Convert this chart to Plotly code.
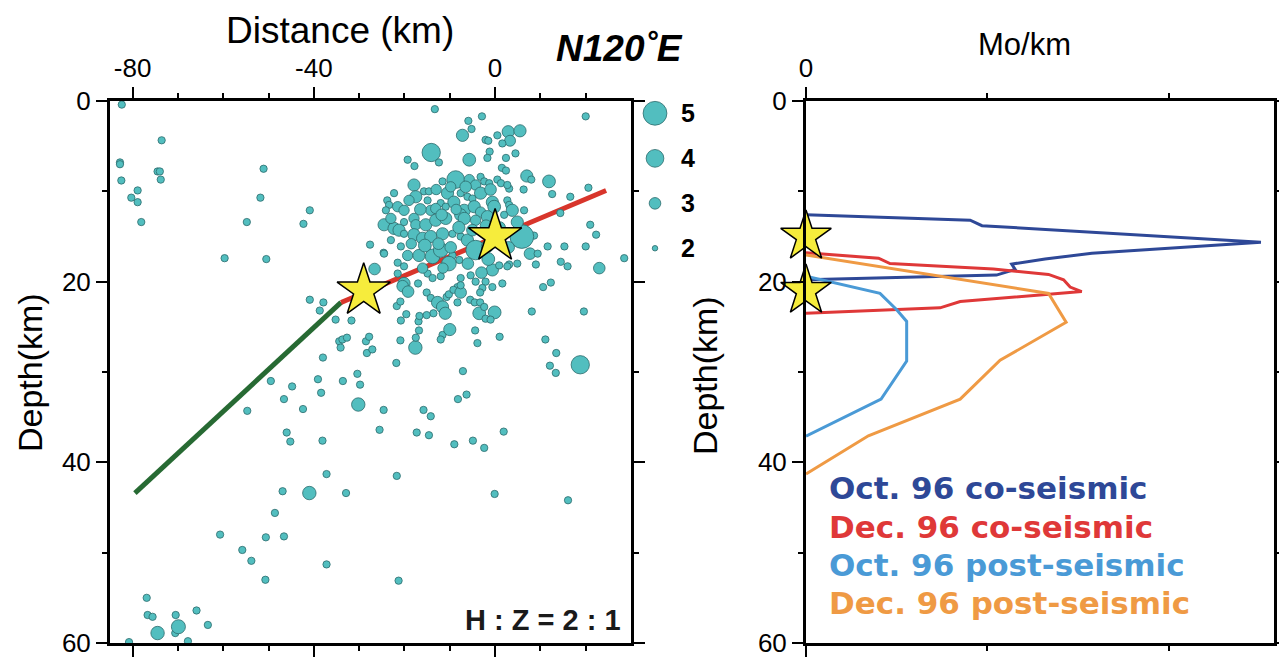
import plotly.graph_objects as go

W, H = 1279, 657

# ---------------- Data: cross-section seismicity ----------------
eq_dist = [
    -82.4, -73.6, -82.8, -82.8, -74.5, -74.0, -73.8, -82.5, -78.9, -80.3, -78.9, -78.1, -51.1, -51.8, -54.8, -40.9, -42.3, -59.7, -50.5,
    -13.3, 20.0, -2.9, -5.9, -5.2, -7.2, 2.9, 5.5, 3.3, 0.5, -2.1, -1.5, 1.6, 4.5, -14.1, -19.3, -17.8, -12.4, -5.7, -1.2, -1.7, 2.4, 1.5, 2.4,
    7.0, 8.0, 11.9, 12.6, 16.6, 20.6, 6.3, 0.5, 1.3, 3.1, 14.4, 21.0, 22.3, 11.6, 15.3, 20.0, 14.5, 16.0, 23.0, 28.5, 12.3, 10.6, 8.6, 5.9,
    7.7, 9.4, 4.9, 3.1, 9.0, -27.6, -24.6, -26.6, -21.5,
    -11.6, -8.7, -5.7, -3.2, -2.4, -1.3, 2.7, -4.3, -17.9, -15.7, -14.6, -22.3,
    -17.5, -10.5, -7.6, -3.2, -6.1, -5.0, -9.1, -12.0, -10.9, -0.6, -0.2, 2.7, 3.1, -23.8, -23.4, -21.5, -20.1, -24.1, -14.9, -14.2, -13.1,
    -6.8, -4.6, -3.2, 3.8, 6.4,
    -24.5, -22.3, -21.2, -20.1, -17.9, -17.5, -15.3, -13.1, -10.9, -7.6, -6.8, -4.3, -1.7, 2.0, 4.9, -17.9, -16.0, -14.2, -11.6, -9.4, -7.6,
    -6.1, -20.1, -23.0, -20.8,
    -24.5, -19.3, -16.8, -13.8, -12.0, -9.4, -7.9, -4.3, -1.7, -0.6, 0.9, 2.7, -21.5, -20.1, -20.1, -14.9, -13.8, -12.0, -10.2, -7.6, -5.4,
    -4.3, -2.1, -8.3, -2.8, -0.6, 1.6,
    -15.5, -12.5, -9.8, -8.0, -5.0, -2.5, -1.0, -6.5, -9.8, -13.0, -19.0, -16.5, -11.8, -8.6, -2.0, 1.0, 3.0, -1.5, -6.0, -11.5, -16.0,
    -18.5, -23.0, -3.0,
    -37.9, -35.2, -31.7, -38.0, -34.4, -33.7, -32.7, -34.1, -28.5, -27.8, -28.3, -27.1, -30.4, -29.8, -33.6, -30.2, -24.6, -25.5, -38.1,
    -37.2, -21.7, -21.8, -20.9, -17.6, -17.5, -16.8, -16.9, -16.7, -20.8, -19.6, -21.7, -20.9, -20.4, -19.2, -17.0, -15.1, -14.2, -12.7,
    -11.6, -11.0, -13.6, -15.1, -11.6, -12.0, -10.0, -10.7, -10.2, -9.2, -7.6, -8.3, -7.6, -5.5, -4.5, -3.3, -3.3, -3.5, -0.1, -2.4, -2.1,
    -1.0, -4.4, -3.9, 1.0, -7.1, -8.2, -6.3, -15.8, -14.2, -17.3, -14.6, -9.0, -4.9, -2.4, 1.9, 8.1, 11.1, 13.5, 12.1, 13.4, 18.8, 19.6,
    -40.9, -38.7, -49.5, -44.8, -39.1, -38.4, -46.6, -42.4, -54.7, -46.0, -45.2,
    -46.9, -41.0, -32.9, -48.6, -60.7, -50.6, -46.6, -55.8, -53.8, -50.7, -37.2, -21.3, -76.9, -76.7, -75.6, -74.5, -70.5, -70.6, -69.9,
    -65.9, -63.4, -80.8, -67.8,
    -0.1, 16.1,
]
eq_depth = [
    0.4, 4.35, 6.8, 7.0, 7.8, 7.8, 8.7, 8.8, 9.9, 10.7, 11.2, 13.4, 7.5, 10.7, 13.4, 12.1, 13.6, 17.4, 17.5,
    0.9, 1.7, 1.7, 2.2, 3.1, 3.8, 3.4, 3.3, 4.4, 3.8, 4.3, 4.4, 4.7, 5.8, 5.7, 6.5, 7.2, 6.8, 6.5, 5.6, 6.3, 6.3, 7.4, 7.7,
    8.3, 8.7, 8.9, 10.3, 10.6, 9.6, 9.8, 8.7, 9.1, 9.7, 12.4, 13.7, 14.8, 16.1, 16.1, 16.1, 17.8, 18.3, 18.5, 17.4, 20.1, 20.6, 14.9, 15.0,
    16.9, 16.9, 18.0, 18.1, 18.1, 15.9, 16.8, 18.6, 17.9,
    8.9, 8.7, 8.7, 8.4, 8.9, 9.1, 9.3, 9.3, 9.3, 10.0, 10.0, 10.2,
    10.6, 10.2, 10.2, 10.2, 10.6, 10.8, 11.2, 11.3, 11.7, 11.2, 11.7, 11.0, 11.5, 11.0, 11.5, 11.7, 12.1, 12.1, 11.0, 12.1, 11.9,
    12.1, 11.7, 12.3, 12.1, 12.1,
    13.7, 14.1, 14.3, 13.4, 13.0, 13.7, 13.7, 13.2, 13.0, 12.6, 13.0, 13.2, 12.8, 12.6, 13.4, 14.8, 15.2, 15.0, 14.7, 14.7, 15.0,
    15.4, 14.7, 15.4, 16.1,
    16.9, 17.1, 17.1, 17.2, 16.5, 17.1, 17.6, 16.5, 16.1, 18.7, 18.2, 18.3, 19.1, 18.3, 20.2, 19.1, 19.6, 19.4, 18.0, 19.6, 19.3,
    20.0, 20.0, 20.6, 20.7, 20.6, 20.2,
    16.0, 15.8, 16.2, 14.0, 14.3, 14.5, 9.8, 9.5, 9.5, 9.8, 11.0, 12.0, 12.6, 12.0, 13.8, 14.0, 16.2, 17.5, 18.0, 18.5, 18.5,
    15.8, 13.0, 19.0,
    22.3, 24.2, 24.3, 28.4, 26.6, 26.4, 26.2, 27.3, 26.6, 26.1, 27.9, 27.5, 30.2, 31.4, 31.0, 33.6, 34.2, 36.4, 37.6,
    41.3, 41.5, 29.0, 26.5, 27.3, 26.2, 25.4, 24.4, 23.8, 24.3, 23.6, 22.7, 22.2, 20.5, 21.1, 20.2, 21.2, 21.8, 22.3,
    22.8, 23.5, 23.5, 23.7, 25.9, 26.4, 25.3, 21.7, 21.4, 20.9, 21.2, 22.3, 20.4, 22.0, 22.3, 21.2, 22.3, 23.5, 23.4, 22.8, 24.1,
    24.2, 25.4, 26.8, 26.1, 29.9, 33.0, 32.5, 34.2, 34.9, 36.7, 37.0, 38.0, 37.6, 38.4, 36.6, 23.3, 26.4, 27.9, 29.3, 30.1, 29.2, 23.3,
    22.0, 23.2, 31.0, 31.6, 30.8, 32.3, 33.0, 34.1, 34.3, 36.7, 37.7,
    43.2, 43.4, 43.4, 45.6, 48.0, 48.3, 48.2, 49.7, 50.9, 53.0, 51.3, 53.1, 55.0, 56.9, 57.1, 58.9, 56.9, 58.9, 58.2,
    56.4, 58.0, 59.9, 59.8,
    43.5, 44.2,
]
eq_mag = [
    2.3, 2.3, 2.3, 2.3, 2.3, 2.3, 2.3, 2.3, 2.3, 2.3, 2.3, 2.3, 2.3, 2.3, 2.3, 2.3, 2.3, 2.3, 2.3,
    2.3, 2.3, 2.3, 2.3, 2.3, 3.1, 3.1, 3.1, 2.9, 2.3, 2.3, 2.3, 2.3, 2.3, 4.1, 2.3, 2.3, 2.3, 3.2, 2.3, 2.3, 2.3, 2.3, 2.3,
    3.1, 2.3, 3.2, 2.3, 2.3, 2.3, 2.3, 2.3, 2.3, 2.3, 2.3, 2.3, 2.3, 2.3, 2.3, 2.3, 2.3, 2.3, 3.0, 2.3, 2.3, 2.3, 2.3, 5.0,
    3.0, 2.3, 2.3, 2.3, 2.3, 2.3, 2.3, 3.0, 2.3,
    2.3, 4.0, 2.8, 2.3, 2.3, 2.3, 2.3, 2.8, 3.1, 2.3, 2.3, 2.3,
    3.1, 3.1, 2.3, 3.1, 2.3, 2.3, 3.1, 2.3, 2.3, 3.1, 3.2, 2.3, 2.3, 2.3, 2.3, 2.8, 2.8, 2.3, 2.3, 2.8, 2.8,
    3.1, 3.1, 2.8, 3.1, 2.3,
    3.1, 3.1, 3.1, 2.3, 2.8, 2.8, 3.1, 3.1, 3.1, 3.1, 3.1, 2.8, 3.1, 2.3, 3.1, 3.1, 3.1, 3.1, 3.1, 2.3, 2.3,
    3.1, 2.3, 2.3, 2.3,
    2.3, 2.8, 3.1, 3.5, 3.5, 2.3, 2.3, 4.3, 3.1, 3.1, 2.3, 2.3, 2.3, 2.3, 3.1, 2.3, 2.3, 2.3, 3.5, 2.3, 2.3,
    2.3, 2.3, 2.3, 2.3, 2.3, 2.3,
    3.2, 3.0, 3.0, 3.1, 3.0, 3.0, 3.0, 3.0, 2.8, 2.8, 2.8, 3.0, 3.0, 2.8, 3.0, 3.0, 3.0, 3.2, 3.0, 2.8, 2.8,
    2.8, 2.8, 3.0,
    2.3, 2.3, 2.3, 2.3, 2.3, 2.3, 2.3, 2.3, 2.3, 2.3, 2.3, 2.3, 2.3, 2.3, 2.3, 3.3, 2.3, 2.3, 2.3,
    2.3, 2.3, 2.3, 2.3, 3.3, 2.3, 2.3, 2.3, 2.3, 2.3, 2.3, 2.3, 2.3, 3.0, 3.0, 2.3, 2.3, 2.3, 3.1,
    3.1, 3.1, 2.3, 2.3, 2.3, 2.3, 3.1, 2.3, 2.3, 2.3, 3.0, 2.3, 2.3, 2.3, 2.3, 2.3, 2.3, 3.2, 3.2, 2.3, 2.3,
    2.3, 2.3, 2.3, 2.3, 2.3, 2.3, 2.3, 2.3, 2.3, 2.3, 2.3, 2.3, 2.3, 2.3, 2.3, 2.3, 2.3, 2.3, 2.3, 2.3, 4.1, 2.3,
    2.3, 2.3, 2.3, 2.3, 2.3, 2.3, 2.3, 2.3, 2.3, 2.3, 2.3,
    2.3, 3.3, 2.3, 2.3, 2.3, 2.3, 2.3, 2.3, 2.3, 2.3, 2.3, 2.3, 2.3, 2.3, 2.3, 3.3, 2.3, 2.3, 3.4,
    2.3, 2.3, 2.3, 2.3,
    2.3, 2.3,
]

# main-shock hypocentres (Oct. 96, Dec. 96)
star_dist = [0.0, -29.0]
star_depth = [15.0, 21.0]

# fault trace
fault_red_dist = [24.5, -34.0]
fault_red_depth = [9.9, 22.3]
fault_green_dist = [-34.0, -79.5]
fault_green_depth = [22.3, 43.4]

# magnitude scale (legend)
scale_mags = [5, 4, 3, 2]
scale_labels = ["5", "4", "3", "2"]
scale_depth = [1.36, 6.35, 11.33, 16.3]

# ---------------- Data: moment per km with depth ----------------
oct_co_mo = [0.0, 0.905, 0.97, 2.508, 1.576, 1.318, 1.134, 1.153, 1.05, 0.0]
oct_co_depth = [12.6, 13.2, 13.8, 15.65, 16.85, 17.5, 18.05, 18.65, 19.27, 19.8]
dec_co_mo = [0.0, 0.40, 0.463, 1.033, 1.337, 1.42, 1.456, 1.52, 0.85, 0.739, 0.0]
dec_co_depth = [16.8, 17.4, 18.0, 18.6, 19.2, 19.8, 20.6, 21.1, 22.2, 22.9, 23.5]
oct_post_mo = [0.0, 0.408, 0.50, 0.555, 0.555, 0.414, 0.0]
oct_post_depth = [19.4, 21.3, 23.1, 24.4, 28.8, 33.0, 37.1]
dec_post_mo = [0.0, 1.337, 1.434, 1.07, 0.85, 0.344, 0.0]
dec_post_depth = [17.05, 21.3, 24.5, 28.7, 33.0, 37.06, 41.3]
star_mo = [0.0, 0.0]

series_names = ["Oct. 96 co-seismic", "Dec. 96 co-seismic", "Oct. 96 post-seismic", "Dec. 96 post-seismic"]
series_colors = ["#2E4897", "#DF3838", "#4A9AD6", "#EF9A44"]

# ---------------- Styling helpers ----------------
TEAL = "#52BEBF"
TEAL_EDGE = "#2C6B6C"
STAR_FILL = "#F6EC3C"


def msize(m):
    return 5.5 + 6.1 * (m - 2.0)


def px_x(px):
    return px / W


def px_y(py):
    return 1 - py / H


fig = go.Figure()

# fault trace
fig.add_trace(go.Scatter(x=fault_green_dist, y=fault_green_depth, mode="lines",
                         line=dict(color="#276A33", width=5), xaxis="x", yaxis="y"))
fig.add_trace(go.Scatter(x=fault_red_dist, y=fault_red_depth, mode="lines",
                         line=dict(color="#D8352B", width=5), xaxis="x", yaxis="y"))

# earthquakes
fig.add_trace(go.Scatter(x=eq_dist, y=eq_depth, mode="markers",
                         marker=dict(size=[msize(m) for m in eq_mag], color=TEAL,
                                     line=dict(color=TEAL_EDGE, width=0.8), opacity=1),
                         xaxis="x", yaxis="y"))

# stars
fig.add_trace(go.Scatter(x=star_dist, y=star_depth, mode="markers",
                         marker=dict(symbol="star", size=40, color=STAR_FILL,
                                     line=dict(color="black", width=1.5)),
                         xaxis="x", yaxis="y", cliponaxis=False))

# magnitude scale on a hidden helper axis to the right of the section
fig.add_trace(go.Scatter(x=[0.5] * len(scale_mags), y=scale_depth, mode="markers",
                         marker=dict(size=[msize(m) for m in scale_mags], color=TEAL, opacity=1,
                                     line=dict(color=TEAL_EDGE, width=0.8)),
                         xaxis="x3", yaxis="y3", cliponaxis=False))

# moment profiles
for xs, ys, c in [(oct_co_mo, oct_co_depth, series_colors[0]),
                  (dec_co_mo, dec_co_depth, series_colors[1]),
                  (oct_post_mo, oct_post_depth, series_colors[2]),
                  (dec_post_mo, dec_post_depth, series_colors[3])]:
    fig.add_trace(go.Scatter(x=xs, y=ys, mode="lines", line=dict(color=c, width=3),
                             xaxis="x2", yaxis="y2", cliponaxis=False))

fig.add_trace(go.Scatter(x=star_mo, y=star_depth, mode="markers",
                         marker=dict(symbol="star", size=38, color=STAR_FILL,
                                     line=dict(color="black", width=1.5)),
                         xaxis="x2", yaxis="y2", cliponaxis=False))

tickfont = dict(family="Liberation Sans, Arial, sans-serif", size=26, color="black")
common = dict(showline=True, linewidth=3, linecolor="black", mirror="allticks",
              ticks="outside", ticklen=11, tickwidth=2, tickcolor="black",
              showgrid=False, zeroline=False, tickfont=tickfont, automargin=False,
              ticklabeloverflow="allow")

ydom = [px_y(643), px_y(101)]

fig.update_layout(
    width=W, height=H,
    margin=dict(l=0, r=0, t=0, b=0, autoexpand=False),
    paper_bgcolor="white", plot_bgcolor="white",
    showlegend=False, hovermode=False,
    xaxis=dict(domain=[px_x(110), px_x(631)], range=[-85, 30], side="top",
               tickvals=[-80, -40, 0], ticktext=["-80", "-40", "0"], anchor="y",
               minor=dict(tickvals=[-70, -60, -50, -30, -20, -10, 10, 20], ticklen=5,
                          tickwidth=2, tickcolor="black", ticks="outside"),
               **common),
    yaxis=dict(domain=ydom, range=[60, 0], tickvals=[0, 20, 40, 60], anchor="x",
               minor=dict(tickvals=[10, 30, 50], ticklen=5, tickwidth=2,
                          tickcolor="black", ticks="outside"),
               **common),
    xaxis2=dict(domain=[px_x(806), px_x(1274)], range=[0, 2.58], side="top",
                tickvals=[0], ticktext=["0"], anchor="y2",
                minor=dict(tickvals=[1, 2], ticklen=5, tickwidth=2,
                           tickcolor="black", ticks="outside"),
                **common),
    yaxis2=dict(domain=ydom, range=[60, 0], tickvals=[0, 20, 40, 60], anchor="x2",
                minor=dict(tickvals=[10, 30, 50], ticklen=5, tickwidth=2,
                           tickcolor="black", ticks="outside"),
                **common),
    xaxis3=dict(domain=[px_x(640), px_x(670)], range=[0, 1], visible=False,
                anchor="y3", automargin=False),
    yaxis3=dict(domain=ydom, range=[60, 0], visible=False, anchor="x3", automargin=False),
)

reg = "Liberation Sans, Arial, sans-serif"
ann = []
ann.append(dict(text="Distance (km)", x=px_x(340), y=px_y(30), font=dict(family=reg, size=37, color="black")))
ann.append(dict(text="<b><i>N120˚E</i></b>", x=px_x(619), y=px_y(48), font=dict(family=reg, size=37, color="black")))
ann.append(dict(text="Depth(km)", x=px_x(30), y=px_y(373), textangle=-90, font=dict(family=reg, size=34, color="black")))
ann.append(dict(text="Depth(km)", x=px_x(705), y=px_y(376), textangle=-90, font=dict(family=reg, size=34, color="black")))
ann.append(dict(text="Mo/km", x=px_x(1024), y=px_y(44), font=dict(family=reg, size=31, color="black")))
for lab, d in zip(scale_labels, [113, 158, 203, 248]):
    ann.append(dict(text="<b>" + lab + "</b>", x=px_x(688), y=px_y(d), font=dict(family=reg, size=25, color="black")))
ann.append(dict(text="<b>H : Z = 2 : 1</b>", x=px_x(623), y=px_y(620), xanchor="right",
                font=dict(family=reg, size=29, color="#1a1a1a")))
for name, col, yy in zip(series_names, series_colors, [488, 527, 565, 603]):
    ann.append(dict(text="<b>" + name + "</b>", x=px_x(827), y=px_y(yy), xanchor="left",
                    font=dict(family="DejaVu Sans, sans-serif", size=31, color=col)))

for a in ann:
    a.setdefault("xanchor", "center")
    a.update(xref="paper", yref="paper", showarrow=False, yanchor="middle")
fig.update_layout(annotations=ann)

fig.write_html("out.html", config={"displayModeBar": False},
               post_script="document.body.style.margin='0';document.body.style.padding='0';")
